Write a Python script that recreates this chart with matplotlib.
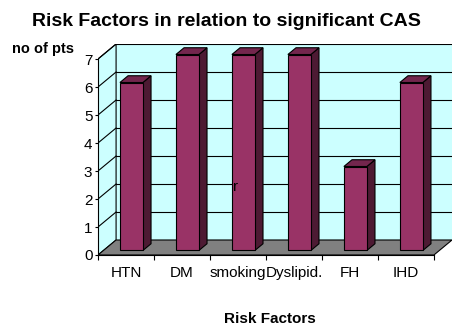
import matplotlib
matplotlib.use('Agg')
import matplotlib.pyplot as plt
from matplotlib.patches import Polygon, Rectangle

plt.rcParams['font.family'] = ['Liberation Sans', 'DejaVu Sans']

categories = ['HTN', 'DM', 'smoking', 'Dyslipid.', 'FH', 'IHD']
values = [6, 7, 7, 7, 3, 6]
y_max = 7

# depth of the fake 3d box, in data units
dx = 0.323
dy = 0.536
# bar front/back as a fraction of the depth, face width
f_d = 0.3
b_d = 0.75
bw = 0.41

wall_c = '#CCFFFF'
floor_c = '#808080'
face_c = '#993366'
side_c = '#4D1A33'
top_c = '#73264D'

fig = plt.figure(figsize=(4.54, 3.27), dpi=100)
ax = fig.add_axes([98/454, 1-255/327, 354/454, 211/327])
n = len(categories)
ax.set_xlim(0, n + dx)
ax.set_ylim(0, y_max + dy)

# walls and floor
ax.add_patch(Polygon([(dx, dy), (n+dx, dy), (n+dx, y_max+dy), (dx, y_max+dy)],
                     closed=True, facecolor=wall_c, edgecolor='none', zorder=0))
ax.add_patch(Polygon([(0, 0), (dx, dy), (dx, y_max+dy), (0, y_max)],
                     closed=True, facecolor=wall_c, edgecolor='black', lw=0.8, zorder=1))
ax.add_patch(Polygon([(0, 0), (n, 0), (n+dx, dy), (dx, dy)],
                     closed=True, facecolor=floor_c, edgecolor='black', lw=0.8, zorder=2))
for k in range(1, y_max+1):
    ax.plot([dx, n+dx], [k+dy, k+dy], color='black', lw=0.8, zorder=1)
    ax.plot([0, dx], [k, k+dy], color='black', lw=0.8, zorder=1)

# bars
for i, v in enumerate(values):
    x0 = i + 0.5 - bw/2 + f_d*dx
    y0 = f_d*dy
    ddx = (b_d - f_d)*dx
    ddy = (b_d - f_d)*dy
    ax.add_patch(Polygon([(x0+bw, y0), (x0+bw+ddx, y0+ddy), (x0+bw+ddx, y0+ddy+v), (x0+bw, y0+v)],
                         closed=True, facecolor=side_c, edgecolor='black', lw=0.8, zorder=3))
    ax.add_patch(Polygon([(x0, y0+v), (x0+bw, y0+v), (x0+bw+ddx, y0+ddy+v), (x0+ddx, y0+ddy+v)],
                         closed=True, facecolor=top_c, edgecolor='black', lw=0.8, zorder=3))
    ax.add_patch(Rectangle((x0, y0), bw, v, facecolor=face_c, edgecolor='black', lw=0.8, zorder=4))

ax.text(2.46, 2.43, 'r', fontsize=11, ha='center', va='center', zorder=5)

# axes
for s in ['top', 'right']:
    ax.spines[s].set_visible(False)
ax.spines['left'].set_bounds(0, y_max)
ax.spines['bottom'].set_bounds(0, n)
ax.spines['left'].set_linewidth(0.8)
ax.spines['bottom'].set_linewidth(0.8)
ax.set_yticks(range(0, y_max+1))
ax.tick_params(axis='y', length=2.5, width=0.8, pad=1.5, labelsize=11)
ax.set_xticks(range(0, n+1))
ax.set_xticklabels([])
ax.set_xticks([i+0.5 for i in range(n)], minor=True)
ax.set_xticklabels(categories, minor=True)
ax.tick_params(axis='x', which='major', length=3.5, width=0.8)
ax.tick_params(axis='x', which='minor', length=0, pad=8, labelsize=11)

fig.text(226/454, 1-22/327, 'Risk Factors in relation to significant CAS',
         fontsize=14, fontweight='bold', ha='center', va='center')
fig.text(12/454, 1-49/327, 'no of pts', fontsize=10.5, fontweight='bold', ha='left', va='center')
fig.text(270/454, 1-319/327, 'Risk Factors', fontsize=11, fontweight='bold', ha='center', va='center')

fig.savefig('out.png', dpi=100)
